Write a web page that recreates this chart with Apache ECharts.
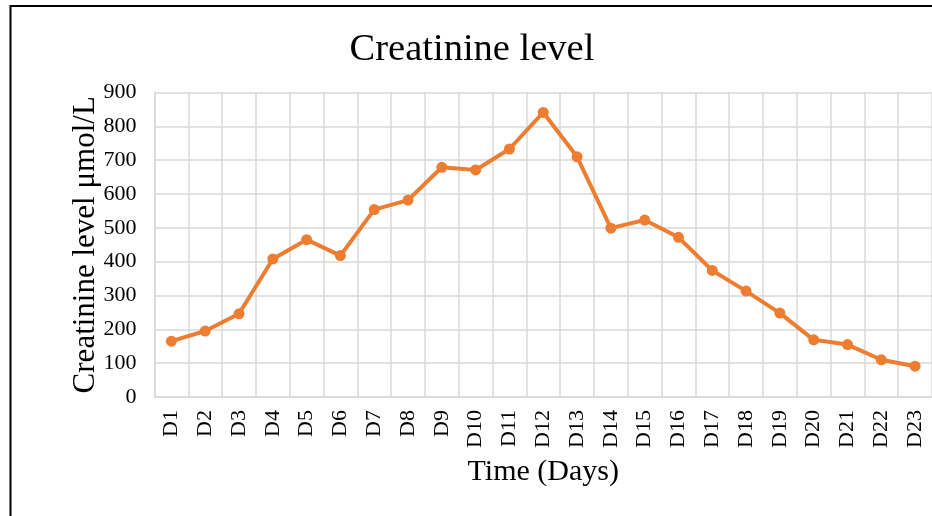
<!DOCTYPE html>
<html>
<head>
<meta charset="utf-8">
<script src="https://cdn.jsdelivr.net/npm/echarts@6/dist/echarts.min.js"></script>
<style>
html,body{margin:0;padding:0;background:#fff;}
#c{width:932px;height:516px;}
</style>
</head>
<body>
<div id="c"></div>
<script>
var categories = ['D1','D2','D3','D4','D5','D6','D7','D8','D9','D10','D11','D12','D13','D14','D15','D16','D17','D18','D19','D20','D21','D22','D23'];
var creatinine = [165,195,246,408,465,418,554,582,679,671,733,841,710,499,523,472,374,313,248,169,155,110,91];
var yTicks = {min:0, max:900, interval:100};

var FONT = '"Liberation Serif", "Times New Roman", serif';
var chart = echarts.init(document.getElementById('c'), null, {renderer:'canvas'});
chart.setOption({
  animation:false,
  backgroundColor:'#fff',
  title:{
    text:'Creatinine level',
    left:467, top:25, textAlign:'center',
    textStyle:{fontFamily:FONT, fontSize:38.5, fontWeight:'normal', color:'#000'}
  },
  grid:{left:154.5, top:92.5, width:779.7, height:304.5, containLabel:false},
  xAxis:{
    type:'category',
    data:categories,
    boundaryGap:true,
    name:'Time (Days)',
    nameLocation:'middle',
    nameGap:60,
    nameMoveOverlap:false,
    nameTextStyle:{fontFamily:FONT, fontSize:30, color:'#000'},
    axisLine:{show:true, lineStyle:{color:'#d9d9d9', width:1.5}},
    axisTick:{show:false},
    axisLabel:{rotate:90, margin:13, fontFamily:FONT, fontSize:22, color:'#000', interval:0},
    splitLine:{show:true, interval:0, lineStyle:{color:'#d9d9d9', width:1.5}}
  },
  yAxis:{
    type:'value',
    min:yTicks.min, max:yTicks.max, interval:yTicks.interval,
    name:'Creatinine level μmol/L',
    nameLocation:'middle',
    nameGap:53,
    nameMoveOverlap:false,
    nameRotate:90,
    nameTextStyle:{fontFamily:FONT, fontSize:31, color:'#000'},
    axisLine:{show:true, lineStyle:{color:'#d9d9d9', width:1.5}},
    axisTick:{show:false},
    axisLabel:{margin:18, fontFamily:FONT, fontSize:22, color:'#000'},
    splitLine:{show:true, lineStyle:{color:'#d9d9d9', width:1.5}}
  },
  series:[{
    type:'line',
    data:creatinine,
    symbol:'circle',
    symbolSize:11,
    lineStyle:{color:'#ED7D31', width:4},
    itemStyle:{color:'#ED7D31'}
  }],
  graphic:[{
    type:'polyline',
    shape:{points:[[10.5,516],[10.5,6],[932,6]]},
    style:{stroke:'#000', lineWidth:2, fill:null}
  }]
});
</script>
</body>
</html>
